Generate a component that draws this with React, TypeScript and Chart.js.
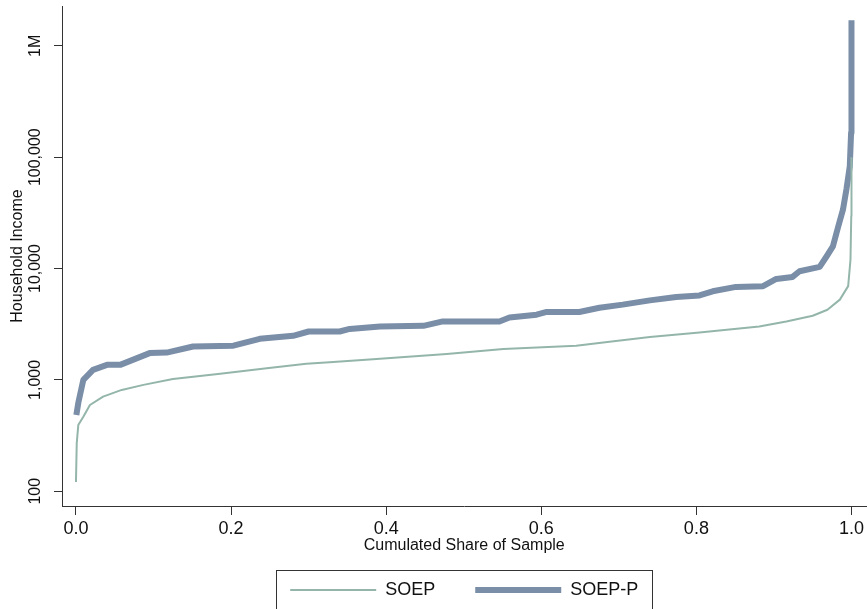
import React, { useEffect, useRef } from "react";
import { Chart, registerables } from "chart.js";

Chart.register(...registerables);

// cumulated share of sample (x) and household income (y)
const SOEP_X = [0, 0.001, 0.003, 0.0095, 0.018, 0.035, 0.059, 0.087, 0.125, 0.186, 0.246, 0.297, 0.327, 0.383, 0.478, 0.551, 0.645, 0.688, 0.74, 0.804, 0.881, 0.916, 0.95, 0.969, 0.985, 0.9957, 0.9987, 0.9997, 1.0];
const SOEP_Y = [121, 270, 393, 467, 595, 708, 813, 902, 1020, 1133, 1274, 1393, 1443, 1536, 1706, 1893, 2025, 2200, 2430, 2670, 3020, 3350, 3770, 4270, 5260, 6950, 12000, 29600, 100000];

const SOEPP_X = [0.0005, 0.003, 0.0095, 0.022, 0.04, 0.057, 0.095, 0.117, 0.151, 0.203, 0.237, 0.28, 0.30, 0.34, 0.353, 0.392, 0.448, 0.473, 0.546, 0.559, 0.594, 0.607, 0.649, 0.675, 0.705, 0.74, 0.774, 0.804, 0.821, 0.851, 0.886, 0.903, 0.924, 0.933, 0.959, 0.968, 0.976, 0.983, 0.989, 0.9935, 0.9978, 0.9995, 1.0];
const SOEPP_Y = [484, 621, 1000, 1230, 1365, 1365, 1740, 1760, 1995, 2030, 2340, 2490, 2720, 2720, 2870, 3020, 3060, 3350, 3350, 3640, 3850, 4075, 4075, 4450, 4740, 5180, 5560, 5730, 6250, 6840, 6940, 8070, 8410, 9460, 10360, 12900, 15800, 24000, 33800, 51600, 83000, 166000, 1700000];

const X_TICKS = [0, 0.2, 0.4, 0.6, 0.8, 1.0];
const X_LABELS = ["0.0", "0.2", "0.4", "0.6", "0.8", "1.0"];
const Y_TICKS = [100, 1000, 10000, 100000, 1000000];
const Y_LABELS = ["100", "1,000", "10,000", "100,000", "1M"];

const FONT = "'Liberation Sans', Arial, sans-serif";
const INK = "#111111";
const AXIS = "#333333";
const GREEN = "#94b6aa";
const BLUE = "#7a8ea8";

// rotated y tick labels and the frame round the legend
const extras = {
  id: "extras",
  afterDraw(chart: any) {
    const ctx = chart.ctx;
    const ys = chart.scales.y;
    ctx.save();
    ctx.fillStyle = INK;
    ctx.font = `16px ${FONT}`;
    ctx.textAlign = "center";
    ctx.textBaseline = "middle";
    Y_TICKS.forEach((v, i) => {
      const py = ys.getPixelForValue(v);
      ctx.save();
      ctx.translate(chart.chartArea.left - 26, py);
      ctx.rotate(-Math.PI / 2);
      ctx.fillText(Y_LABELS[i], 0, 0);
      ctx.restore();
    });

    const boxes = chart.legend?.legendHitBoxes;
    if (boxes && boxes.length) {
      const first = boxes[0];
      const last = boxes[boxes.length - 1];
      const l = Math.round(first.left - 14) + 0.5;
      const r = Math.round(last.left + last.width + 14) + 0.5;
      const t = Math.round(first.top - 11) + 0.5;
      ctx.strokeStyle = AXIS;
      ctx.lineWidth = 1;
      ctx.strokeRect(l, t, r - l, first.height + 22);
    }
    ctx.restore();
  },
};

const App: React.FC = () => {
  const canvasRef = useRef<HTMLCanvasElement | null>(null);
  const chartRef = useRef<Chart | null>(null);

  useEffect(() => {
    if (!canvasRef.current) return;
    if (chartRef.current) chartRef.current.destroy();

    chartRef.current = new Chart(canvasRef.current, {
      type: "line",
      data: {
        datasets: [
          {
            label: "SOEP",
            data: SOEP_X.map((x, i) => ({ x, y: SOEP_Y[i] })),
            borderColor: GREEN,
            backgroundColor: GREEN,
            borderWidth: 2,
            pointRadius: 0,
            tension: 0,
            borderJoinStyle: "round",
          },
          {
            label: "SOEP-P",
            data: SOEPP_X.map((x, i) => ({ x, y: SOEPP_Y[i] })),
            borderColor: BLUE,
            backgroundColor: BLUE,
            borderWidth: 6,
            pointRadius: 0,
            tension: 0,
            borderJoinStyle: "round",
          },
        ],
      },
      options: {
        responsive: false,
        animation: false,
        layout: { padding: { top: 6, left: 0, right: 0, bottom: 0 } },
        scales: {
          x: {
            type: "linear",
            min: -0.018,
            max: 1.0193,
            afterBuildTicks: (s: any) => {
              s.ticks = X_TICKS.map((v) => ({ value: v }));
            },
            afterFit: (s: any) => {
              s.height = 35;
            },
            grid: { drawOnChartArea: false, drawTicks: true, tickLength: 9, color: AXIS },
            border: { color: AXIS, width: 1 },
            ticks: {
              color: INK,
              font: { family: FONT, size: 18 },
              padding: 3,
              maxRotation: 0,
              autoSkip: false,
              callback: (v: any) => {
                const i = X_TICKS.indexOf(Number(v));
                return i >= 0 ? X_LABELS[i] : "";
              },
            },
            title: {
              display: true,
              text: "Cumulated Share of Sample",
              color: INK,
              font: { family: FONT, size: 16 },
              padding: { top: 0, bottom: -14.6 },
            },
          },
          y: {
            type: "logarithmic",
            min: 73.7,
            max: 2280000,
            afterBuildTicks: (s: any) => {
              s.ticks = Y_TICKS.map((v) => ({ value: v }));
            },
            afterFit: (s: any) => {
              s.width = 62;
            },
            grid: { drawOnChartArea: false, drawTicks: true, tickLength: 8, color: AXIS },
            border: { color: AXIS, width: 1 },
            ticks: { display: false },
            title: {
              display: true,
              text: "Household Income",
              color: INK,
              font: { family: FONT, size: 16 },
              padding: { top: 8, bottom: 0 },
            },
          },
        },
        plugins: {
          legend: {
            position: "bottom",
            fullSize: false,
            align: "center",
            labels: {
              usePointStyle: true,
              pointStyle: "line",
              pointStyleWidth: 86,
              boxWidth: 86,
              padding: 40,
              color: INK,
              font: { family: FONT, size: 18 },
            },
          },
          tooltip: { enabled: false },
        },
      },
      plugins: [extras],
    } as any);

    return () => {
      chartRef.current?.destroy();
      chartRef.current = null;
    };
  }, []);

  return (
    <div style={{ position: "absolute", left: 0, top: 0, width: 867, height: 609, background: "#ffffff", overflow: "hidden" }}>
      <canvas ref={canvasRef} width={867} height={609} style={{ width: 867, height: 609 }} />
    </div>
  );
};

export default App;
